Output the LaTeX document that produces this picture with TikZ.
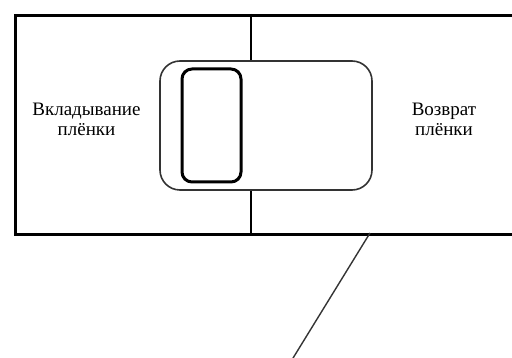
\documentclass[tikz,border=0pt]{standalone}
\usepackage{fontspec}
\setmainfont{Liberation Serif}
\usetikzlibrary{positioning}

\begin{document}
\begin{tikzpicture}[x=1pt,y=-1pt]
\tikzset{
 frame/.style={draw=black,line width=3pt,inner sep=0pt},
 divider/.style={draw=black,line width=2.4pt},
 tray/.style={draw=black!80,line width=1.6pt,rounded corners=20pt,fill=white,minimum width=212pt,minimum height=129pt,inner sep=0pt},
 film/.style={draw=black,line width=3pt,rounded corners=10pt,minimum width=59pt,minimum height=113pt,inner sep=0pt},
 lbl/.style={align=center,font=\fontsize{19}{20}\selectfont},
 leader/.style={draw=black!80,line width=1.4pt}
}
\useasboundingbox (0,0) rectangle (512,358);
\node[frame,anchor=north west,minimum width=520pt,minimum height=219pt] (case) at (14,14) {};
\coordinate (dtop) at (251,14);
\coordinate (dbot) at (251,233);
\draw[divider] (dtop) -- (dbot);
\node[tray] (tray) at (266,125.5) {};
\node[film] (film) at (211.5,125.5) {};
\node[lbl] (load) at (86.5,119) {Вкладывание\\плёнки};
\node[lbl] (back) at (444,119) {Возврат\\плёнки};
\coordinate (lfoot) at (370,233);
\coordinate (lend) at (290,363);
\draw[leader] (lfoot) -- (lend);
\end{tikzpicture}
\end{document}
